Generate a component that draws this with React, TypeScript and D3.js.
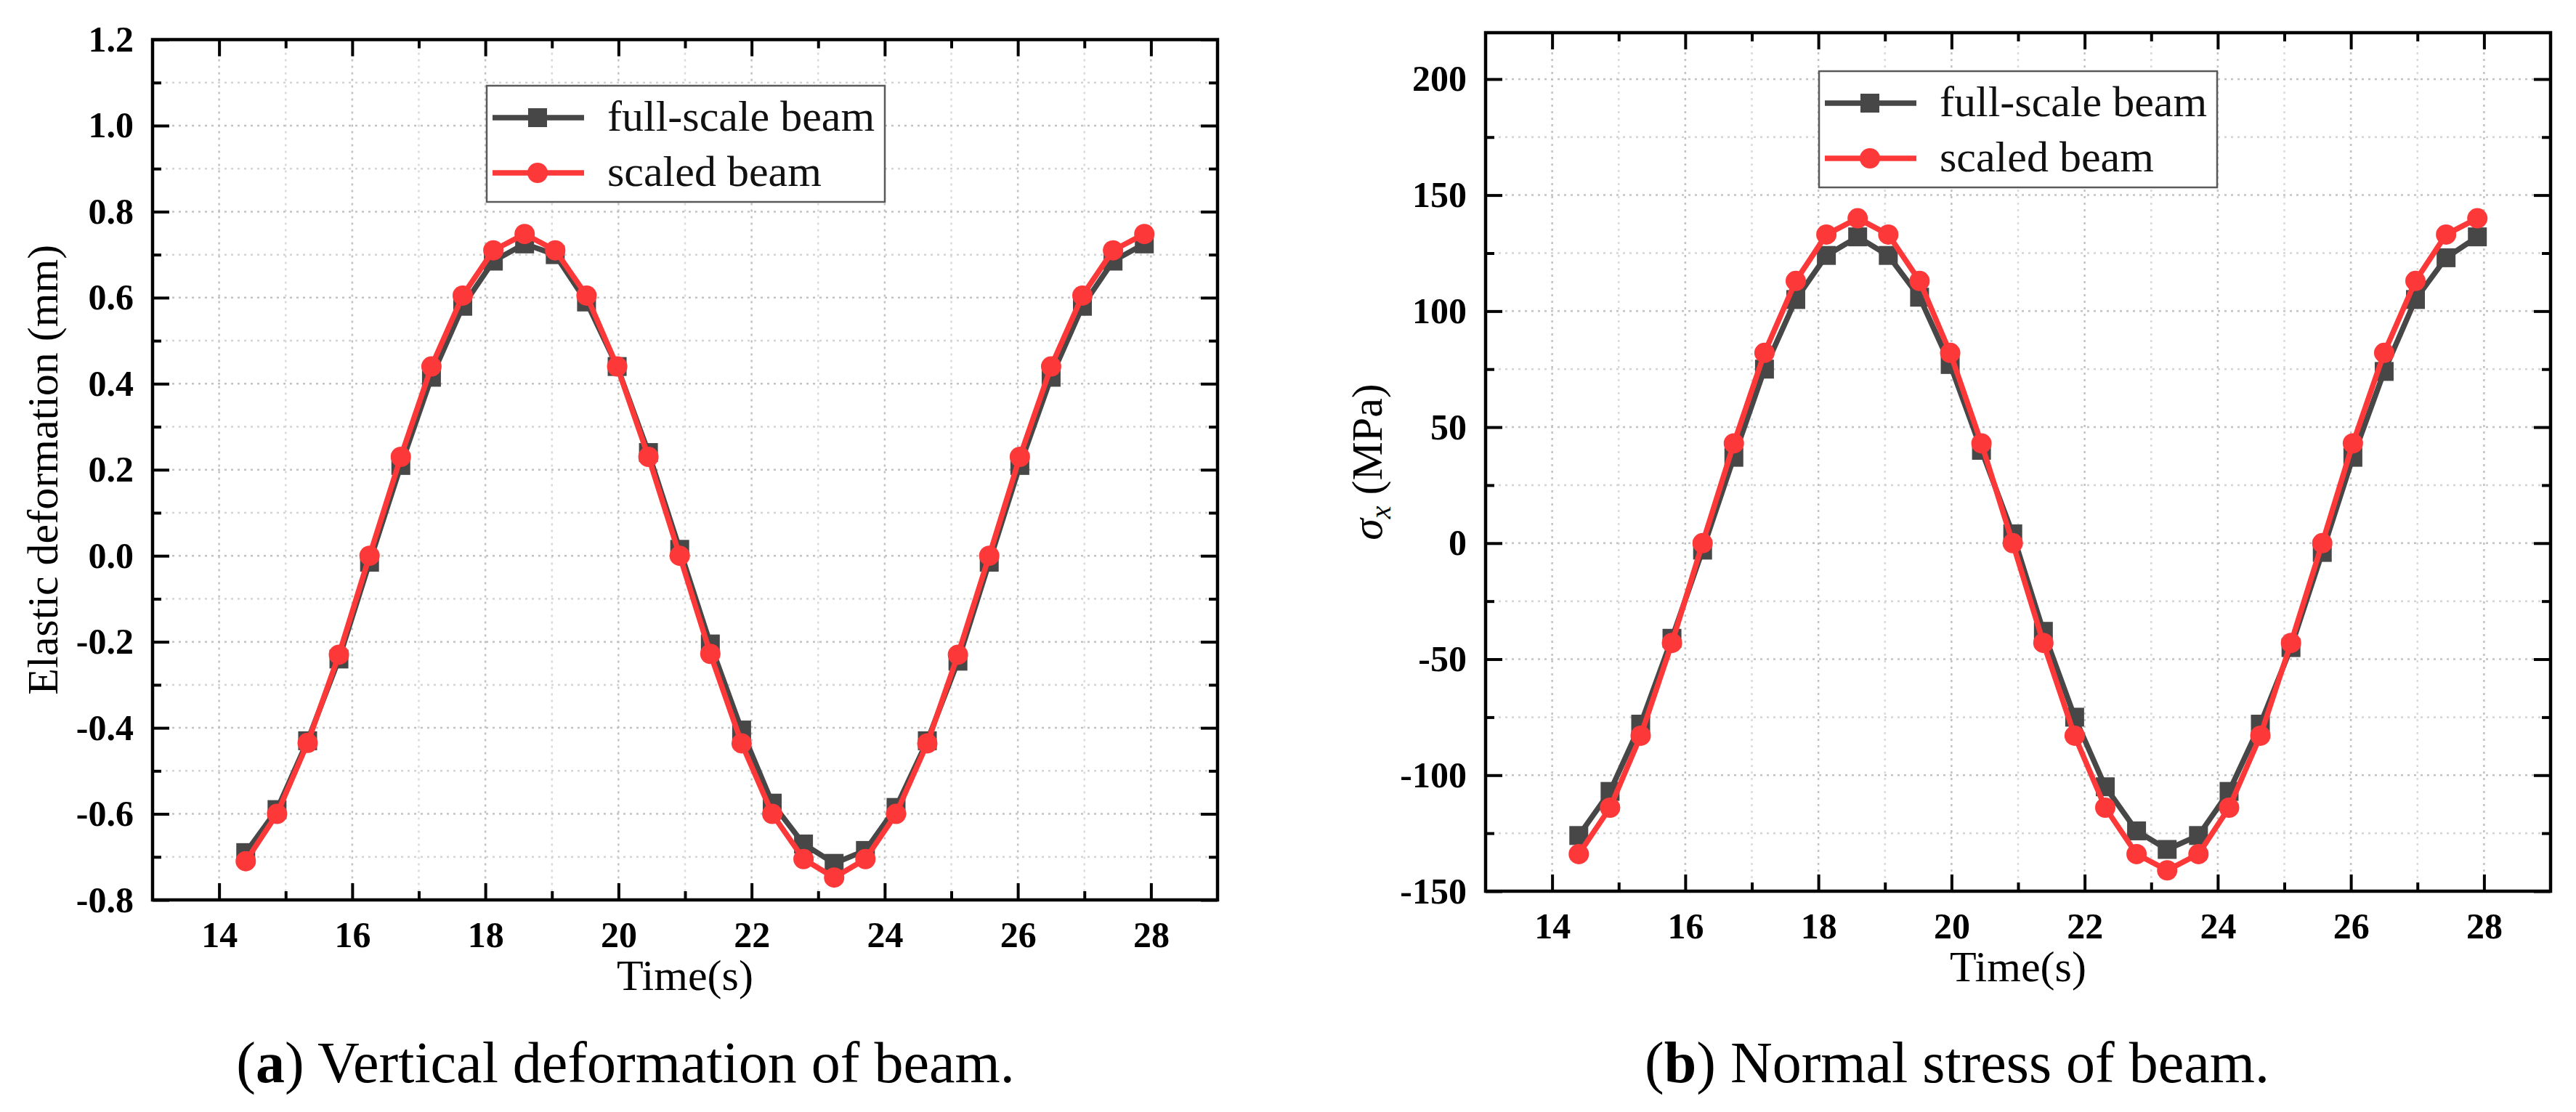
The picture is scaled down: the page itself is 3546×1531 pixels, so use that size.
import { useRef, useEffect } from 'react';
import * as d3 from 'd3';

// sample times (s)
const TIME = [14.40, 14.87, 15.33, 15.80, 16.26, 16.73, 17.19, 17.66, 18.12, 18.59,
    19.05, 19.52, 19.98, 20.45, 20.92, 21.38, 21.85, 22.31, 22.78, 23.24,
    23.71, 24.17, 24.64, 25.10, 25.57, 26.03, 26.50, 26.97, 27.43, 27.90];

// (a) elastic deformation (mm)
const DEF_FULL = [-0.69, -0.59, -0.43, -0.24, -0.015, 0.21, 0.415, 0.58, 0.685, 0.725,
    0.70, 0.59, 0.44, 0.24, 0.015, -0.205, -0.405, -0.575, -0.67, -0.715,
    -0.685, -0.585, -0.43, -0.245, -0.015, 0.21, 0.415, 0.58, 0.685, 0.725];
const DEF_SCALED = [-0.71, -0.60, -0.435, -0.23, 0.0, 0.23, 0.44, 0.605, 0.71, 0.748,
    0.71, 0.605, 0.44, 0.23, 0.0, -0.228, -0.436, -0.60, -0.705, -0.748,
    -0.705, -0.60, -0.436, -0.23, 0.0, 0.23, 0.44, 0.605, 0.71, 0.748];

// (b) normal stress (MPa)
const STRESS_FULL = [-126, -107, -78, -41, -3, 37, 75, 105, 124, 132,
    124, 106, 77, 40, 4, -38, -75, -105, -124, -132,
    -126, -107, -78, -45, -4, 37, 74, 105, 123, 132];
const STRESS_SCALED = [-134, -114, -83, -43, 0, 43, 82, 113, 133, 140,
    133, 113, 82, 43, 0, -43, -83, -114, -134, -141,
    -134, -114, -83, -43, 0, 43, 82, 113, 133, 140];

const X_MAJOR = [14, 16, 18, 20, 22, 24, 26, 28];
const X_MINOR = [15, 17, 19, 21, 23, 25, 27];
const DEF_MAJOR = [-0.8, -0.6, -0.4, -0.2, 0.0, 0.2, 0.4, 0.6, 0.8, 1.0, 1.2];
const DEF_MINOR = [-0.7, -0.5, -0.3, -0.1, 0.1, 0.3, 0.5, 0.7, 0.9, 1.1];
const STRESS_MAJOR = [-150, -100, -50, 0, 50, 100, 150, 200];
const STRESS_MINOR = [-125, -75, -25, 25, 75, 125, 175];

const SERIES_NAMES = ['full-scale beam', 'scaled beam'];
const GRAY = '#474747';
const RED = '#fd3838';
const FONT = '"Liberation Serif", "Times New Roman", serif';

interface PanelSpec {
    left: number; right: number; top: number; bottom: number;
    yDomain: [number, number];
    yMajor: number[]; yMinor: number[];
    fmt: (v: number) => string;
    full: number[]; scaled: number[];
    legendX: number; legendY: number;
    yLabelX: number;
    yLabel: 'def' | 'stress';
    captionX: number; letter: string; caption: string;
}

const PANELS: PanelSpec[] = [
    {
        left: 210, right: 1676, top: 54.5, bottom: 1239,
        yDomain: [-0.8, 1.2], yMajor: DEF_MAJOR, yMinor: DEF_MINOR,
        fmt: v => v.toFixed(1),
        full: DEF_FULL, scaled: DEF_SCALED,
        legendX: 670, legendY: 118, yLabelX: 79, yLabel: 'def',
        captionX: 861, letter: 'a', caption: ' Vertical deformation of beam.'
    },
    {
        left: 2045, right: 3511, top: 45, bottom: 1227,
        yDomain: [-150, 220], yMajor: STRESS_MAJOR, yMinor: STRESS_MINOR,
        fmt: v => String(v),
        full: STRESS_FULL, scaled: STRESS_SCALED,
        legendX: 2504, legendY: 98, yLabelX: 1902, yLabel: 'stress',
        captionX: 2694, letter: 'b', caption: ' Normal stress of beam.'
    }
];

function drawPanel(svg: d3.Selection<SVGSVGElement, unknown, null, undefined>, p: PanelSpec) {
    const x = d3.scaleLinear().domain([13, 29]).range([p.left, p.right]);
    const y = d3.scaleLinear().domain(p.yDomain).range([p.bottom, p.top]);
    const g = svg.append('g');

    // dotted grid: major a little darker than minor
    const grid = g.append('g').attr('stroke-width', 2.5).attr('stroke-dasharray', '3 6');
    X_MAJOR.forEach(t => {
        grid.append('line').attr('stroke', '#c2c2c2')
            .attr('x1', x(t)).attr('x2', x(t)).attr('y1', p.top).attr('y2', p.bottom);
    });
    X_MINOR.forEach(t => {
        grid.append('line').attr('stroke', '#dadada')
            .attr('x1', x(t)).attr('x2', x(t)).attr('y1', p.top).attr('y2', p.bottom);
    });
    p.yMajor.filter(v => v > p.yDomain[0] && v < p.yDomain[1]).forEach(v => {
        grid.append('line').attr('stroke', '#c2c2c2')
            .attr('x1', p.left).attr('x2', p.right).attr('y1', y(v)).attr('y2', y(v));
    });
    p.yMinor.forEach(v => {
        grid.append('line').attr('stroke', '#d4d4d4')
            .attr('x1', p.left).attr('x2', p.right).attr('y1', y(v)).attr('y2', y(v));
    });

    // axes with inward ticks
    const styleAxis = (sel: d3.Selection<SVGGElement, unknown, null, undefined>) => {
        sel.select('.domain').remove();
        sel.selectAll('.tick line').attr('stroke', '#000').attr('stroke-width', 4);
        sel.selectAll('.tick text').attr('fill', '#000').style('font-family', FONT)
            .style('font-size', '50px').style('font-weight', 'bold');
    };
    const fmtX = (d: d3.NumberValue) => String(d);
    g.append('g').attr('transform', `translate(0,${p.bottom})`)
        .call(d3.axisBottom(x).tickValues(X_MAJOR).tickSize(-23).tickPadding(29).tickFormat(fmtX)).call(styleAxis);
    g.append('g').attr('transform', `translate(0,${p.bottom})`)
        .call(d3.axisBottom(x).tickValues(X_MINOR).tickSize(-12).tickFormat(() => '')).call(styleAxis);
    g.append('g').attr('transform', `translate(0,${p.top})`)
        .call(d3.axisTop(x).tickValues(X_MAJOR).tickSize(-23).tickFormat(() => '')).call(styleAxis);
    g.append('g').attr('transform', `translate(0,${p.top})`)
        .call(d3.axisTop(x).tickValues(X_MINOR).tickSize(-12).tickFormat(() => '')).call(styleAxis);

    const yMaj = p.yMajor.filter(v => v <= p.yDomain[1]);
    g.append('g').attr('transform', `translate(${p.left},0)`)
        .call(d3.axisLeft(y).tickValues(yMaj).tickSize(-23).tickPadding(26).tickFormat(d => p.fmt(+d))).call(styleAxis);
    g.append('g').attr('transform', `translate(${p.left},0)`)
        .call(d3.axisLeft(y).tickValues(p.yMinor).tickSize(-12).tickFormat(() => '')).call(styleAxis);
    g.append('g').attr('transform', `translate(${p.right},0)`)
        .call(d3.axisRight(y).tickValues(yMaj).tickSize(-23).tickFormat(() => '')).call(styleAxis);
    g.append('g').attr('transform', `translate(${p.right},0)`)
        .call(d3.axisRight(y).tickValues(p.yMinor).tickSize(-12).tickFormat(() => '')).call(styleAxis);

    // frame
    g.append('rect').attr('x', p.left).attr('y', p.top)
        .attr('width', p.right - p.left).attr('height', p.bottom - p.top)
        .attr('fill', 'none').attr('stroke', '#000').attr('stroke-width', 4.5);

    // series: full-scale (squares) under scaled (circles)
    const line = d3.line<number>().x((_, i) => x(TIME[i])).y(d => y(d));
    g.append('path').datum(p.full).attr('d', line).attr('fill', 'none')
        .attr('stroke', GRAY).attr('stroke-width', 7.5).attr('stroke-linejoin', 'round');
    g.append('g').selectAll('rect').data(p.full).join('rect')
        .attr('x', (_, i) => x(TIME[i]) - 13).attr('y', d => y(d) - 13)
        .attr('width', 26).attr('height', 26).attr('fill', GRAY);
    g.append('path').datum(p.scaled).attr('d', line).attr('fill', 'none')
        .attr('stroke', RED).attr('stroke-width', 7.5).attr('stroke-linejoin', 'round');
    g.append('g').selectAll('circle').data(p.scaled).join('circle')
        .attr('cx', (_, i) => x(TIME[i])).attr('cy', d => y(d))
        .attr('r', 14).attr('fill', RED);

    // legend
    const lg = g.append('g').attr('transform', `translate(${p.legendX},${p.legendY})`);
    lg.append('rect').attr('width', 548).attr('height', 160).attr('fill', '#fff')
        .attr('stroke', '#5a5a5a').attr('stroke-width', 2.5);
    [GRAY, RED].forEach((c, i) => {
        const ry = 44 + i * 76;
        lg.append('line').attr('x1', 8).attr('x2', 134).attr('y1', ry).attr('y2', ry)
            .attr('stroke', c).attr('stroke-width', 7.5);
        if (i === 0) {
            lg.append('rect').attr('x', 57).attr('y', ry - 13).attr('width', 26).attr('height', 26).attr('fill', c);
        } else {
            lg.append('circle').attr('cx', 70).attr('cy', ry).attr('r', 14).attr('fill', c);
        }
        lg.append('text').attr('x', 166).attr('y', ry + 18)
            .style('font-family', FONT).style('font-size', '60px').attr('fill', '#111')
            .text(SERIES_NAMES[i]);
    });

    // axis titles
    g.append('text').attr('x', (p.left + p.right) / 2).attr('y', p.bottom + 124)
        .attr('text-anchor', 'middle').style('font-family', FONT).style('font-size', '60px')
        .text('Time(s)');

    const yt = g.append('text')
        .attr('transform', `translate(${p.yLabelX},${(p.top + p.bottom) / 2}) rotate(-90)`)
        .attr('text-anchor', 'middle').style('font-family', FONT).style('font-size', '60px');
    if (p.yLabel === 'def') {
        yt.text('Elastic deformation (mm)');
    } else {
        yt.append('tspan').style('font-style', 'italic').text('σ');
        yt.append('tspan').style('font-style', 'italic').style('font-size', '40px').attr('dy', 12).text('x');
        yt.append('tspan').attr('dy', -12).text(' (MPa)');
    }

    // caption
    const cap = g.append('text').attr('x', p.captionX).attr('y', 1490)
        .attr('text-anchor', 'middle').style('font-family', FONT).style('font-size', '80px').attr('fill', '#000');
    cap.append('tspan').text('(');
    cap.append('tspan').style('font-weight', 'bold').text(p.letter);
    cap.append('tspan').text(')' + p.caption);
}

export default function App() {
    const ref = useRef<SVGSVGElement>(null);

    useEffect(() => {
        if (!ref.current) return;
        const svg = d3.select(ref.current);
        svg.selectAll('*').remove();
        svg.append('rect').attr('width', 3546).attr('height', 1531).attr('fill', '#fff');
        PANELS.forEach(p => drawPanel(svg, p));
    }, []);

    return (
        <div style={{ position: 'fixed', left: 0, top: 0 }}>
            <svg ref={ref} width={3546} height={1531} style={{ display: 'block' }} />
        </div>
    );
}
